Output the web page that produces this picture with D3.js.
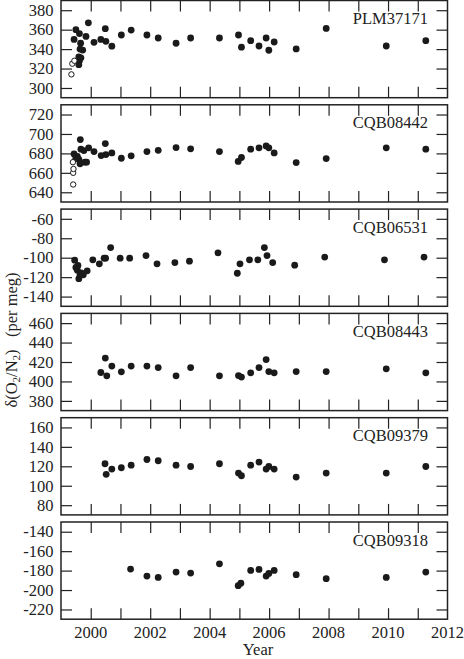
<!DOCTYPE html>
<html><head><meta charset="utf-8">
<script src="https://cdn.jsdelivr.net/npm/d3@7"></script>
<style>body{margin:0;background:#fff}svg{display:block}</style>
</head><body>
<script>
const panelNames = ["PLM37171","CQB08442","CQB06531","CQB08443","CQB09379","CQB09318"];
const panelDomains = [[290,390],[630,730],[-150,-50],[370,470],[70,170],[-230,-130]];
const panelTicks = [[300,320,340,360,380],[640,660,680,700,720],[-140,-120,-100,-80,-60],[380,400,420,440,460],[80,100,120,140,160],[-220,-200,-180,-160,-140]];
const yearTicks = [2000,2001,2002,2003,2004,2005,2006,2007,2008,2009,2010,2011];
const yearLabels = [2000,2002,2004,2006,2008,2010,2012];

// open symbols (early samples)
const plmOpen = [[1999.35,314],[1999.38,325],[1999.45,328]];
const cqb08442Open = [[1999.41,648],[1999.41,660],[1999.42,664],[1999.40,671]];

const plmData = [[1999.44,350],[1999.5,360],[1999.62,356],[1999.66,346],[1999.64,340],[1999.73,339],[1999.6,332],[1999.62,328],[1999.6,324],[1999.67,331],[1999.84,353],[1999.92,367],[2000.11,347],[2000.34,350],[2000.49,361],[2000.51,348],[2000.71,343],[2001.03,354.5],[2001.36,359.6],[2001.89,354.5],[2002.27,351.4],[2002.87,346],[2003.36,351.4],[2004.33,351.4],[2004.97,354.5],[2005.07,342],[2005.38,348.7],[2005.66,343.2],[2005.9,351.4],[2005.99,338.8],[2006.17,347.3],[2006.91,340.2],[2007.92,361.3],[2009.94,343.2],[2011.27,348.7]];
const cqb08442Data = [[1999.44,679.5],[1999.5,675],[1999.55,677],[1999.6,673.7],[1999.64,669.3],[1999.65,694.2],[1999.67,684.3],[1999.77,682.9],[1999.8,671],[1999.86,671],[1999.93,685.7],[2000.11,681.9],[2000.35,677.8],[2000.49,690.1],[2000.51,678.8],[2000.71,680.5],[2001.03,675],[2001.36,677.5],[2001.89,681.9],[2002.27,683.2],[2002.87,686],[2003.36,684.7],[2004.33,681.9],[2004.96,671.7],[2005.07,675.8],[2005.38,684.3],[2005.66,685.7],[2005.9,687.7],[2005.99,685.7],[2006.17,680.5],[2006.91,670.6],[2007.92,674.7],[2009.94,685.7],[2011.27,684.3]];
const cqb06531Data = [[1999.46,-102.5],[1999.5,-110],[1999.55,-112.8],[1999.57,-108],[1999.6,-121.6],[1999.64,-117.6],[1999.68,-115.6],[1999.75,-117.6],[1999.88,-113.5],[2000.07,-102.2],[2000.29,-106.3],[2000.45,-100.5],[2000.5,-100.5],[2000.67,-89.6],[2000.99,-100.5],[2001.31,-100.5],[2001.86,-97.8],[2002.23,-106.3],[2002.83,-105],[2003.32,-103.6],[2004.28,-95],[2004.93,-116],[2005.02,-106.3],[2005.34,-102.2],[2005.62,-102.2],[2005.84,-89.6],[2005.93,-97.8],[2006.12,-105],[2006.86,-107.7],[2007.87,-99.4],[2009.88,-102.2],[2011.21,-99.4]];
const cqb08443Data = [[2000.34,409.2],[2000.49,424],[2000.54,405.8],[2000.71,415.8],[2001.03,409.9],[2001.36,415.8],[2001.89,415.8],[2002.27,414.3],[2002.87,405.8],[2003.36,414.3],[2004.33,405.8],[2004.97,406],[2005.07,404.5],[2005.38,408.9],[2005.66,414.3],[2005.9,422.5],[2005.99,410.2],[2006.17,408.9],[2006.91,410.2],[2007.92,410.2],[2009.94,413],[2011.27,408.9]];
const cqb09379Data = [[2000.48,122.6],[2000.52,111.7],[2000.71,117.1],[2001.03,118.5],[2001.36,121.2],[2001.89,127],[2002.27,125.7],[2002.87,121.2],[2003.36,119.8],[2004.33,122.6],[2004.97,113],[2005.07,110.3],[2005.38,121.2],[2005.66,124.3],[2005.9,117.1],[2005.99,119.8],[2006.17,117.1],[2006.91,108.9],[2007.92,113],[2009.94,113],[2011.27,119.8]];
const cqb09318Data = [[2001.34,-178.4],[2001.89,-185.6],[2002.27,-187],[2002.87,-181.5],[2003.36,-182.5],[2004.33,-173],[2004.96,-195.5],[2005.05,-193],[2005.38,-179.8],[2005.66,-178.8],[2005.9,-185.6],[2005.99,-182.9],[2006.17,-179.8],[2006.91,-184.2],[2007.92,-188.3],[2009.94,-187],[2011.27,-181.5]];

const panelData = [plmData,cqb08442Data,cqb06531Data,cqb08443Data,cqb09379Data,cqb09318Data];
const panelOpen = [plmOpen,cqb08442Open,[],[],[],[]];

const FONT = "'Liberation Serif', 'Times New Roman', Times, serif";
const W = 464, H = 659;
const left = 61, right = 447.5, top0 = 0.5, pitch = 104.3, ph = 97.2, tickLen = 11;
const svg = d3.select("body").append("svg").attr("width",W).attr("height",H)
  .attr("font-family", FONT).style("font-family", FONT);
const x = d3.scaleLinear().domain([1999,2012]).range([left,right]);

panelNames.forEach((name,i) => {
  const top = top0 + i*pitch, bot = top + ph;
  const y = d3.scaleLinear().domain(panelDomains[i]).range([bot, top]);
  const g = svg.append("g");
  const ya = g.append("g").attr("transform",`translate(${left},0)`)
    .call(d3.axisRight(y).tickValues(panelTicks[i]).tickSize(tickLen).tickFormat(""));
  const yr = g.append("g").attr("transform",`translate(${right},0)`)
    .call(d3.axisLeft(y).tickValues(panelTicks[i]).tickSize(tickLen).tickFormat(""));
  const xt = g.append("g").attr("transform",`translate(0,${top})`)
    .call(d3.axisBottom(x).tickValues(yearTicks).tickSize(tickLen).tickFormat(""));
  const xb = g.append("g").attr("transform",`translate(0,${bot})`)
    .call(d3.axisTop(x).tickValues(yearTicks).tickSize(tickLen).tickFormat(""));
  [ya,yr,xt,xb].forEach(a => { a.select(".domain").remove(); a.selectAll("line").attr("stroke","#222").attr("stroke-width",1.2); });
  g.selectAll("text.yl").data(panelTicks[i]).join("text").attr("class","yl")
    .attr("x", left-7.5).attr("y", d=>y(d)).attr("dy","0.35em").attr("text-anchor","end")
    .attr("font-size",16.5).attr("fill","#222").style("font-family",FONT).text(d=>d);
  g.append("rect").attr("x",left).attr("y",top).attr("width",right-left).attr("height",ph)
    .attr("fill","none").attr("stroke","#222").attr("stroke-width",1.5);
  g.append("text").attr("x",428).attr("y",top+23.5).attr("text-anchor","end").attr("font-size",16.5)
    .attr("fill","#222").style("font-family",FONT).text(name);
  g.selectAll("circle.f").data(panelData[i]).join("circle").attr("class","f")
    .attr("cx",d=>x(d[0])).attr("cy",d=>y(d[1])).attr("r",3.4).attr("fill","#1a1a1a");
  g.selectAll("circle.o").data(panelOpen[i]).join("circle").attr("class","o")
    .attr("cx",d=>x(d[0])).attr("cy",d=>y(d[1])).attr("r",2.7).attr("fill","#fff").attr("stroke","#1a1a1a").attr("stroke-width",1);
  if (i === panelNames.length-1) {
    g.selectAll("text.xl").data(yearLabels).join("text").attr("class","xl")
      .attr("x",d=>x(d)).attr("y",bot+18.5).attr("text-anchor","middle").attr("font-size",16.5)
      .attr("fill","#222").style("font-family",FONT).text(d=>d);
    svg.append("text").attr("x",258).attr("y",655).attr("text-anchor","middle").attr("font-size",16.5)
      .attr("fill","#222").style("font-family",FONT).text("Year");
  }
});

const t = svg.append("text").attr("transform","translate(17,340) rotate(-90)").attr("text-anchor","middle")
  .attr("font-size",16.5).attr("fill","#222").style("font-family",FONT);
t.append("tspan").text("δ(O");
t.append("tspan").attr("font-size",11).attr("dy",3).text("2");
t.append("tspan").attr("dy",-3).text("/N");
t.append("tspan").attr("font-size",11).attr("dy",3).text("2");
t.append("tspan").attr("dy",-3).text(")\u00a0\u00a0\u00a0(per meg)");
</script>
</body></html>
